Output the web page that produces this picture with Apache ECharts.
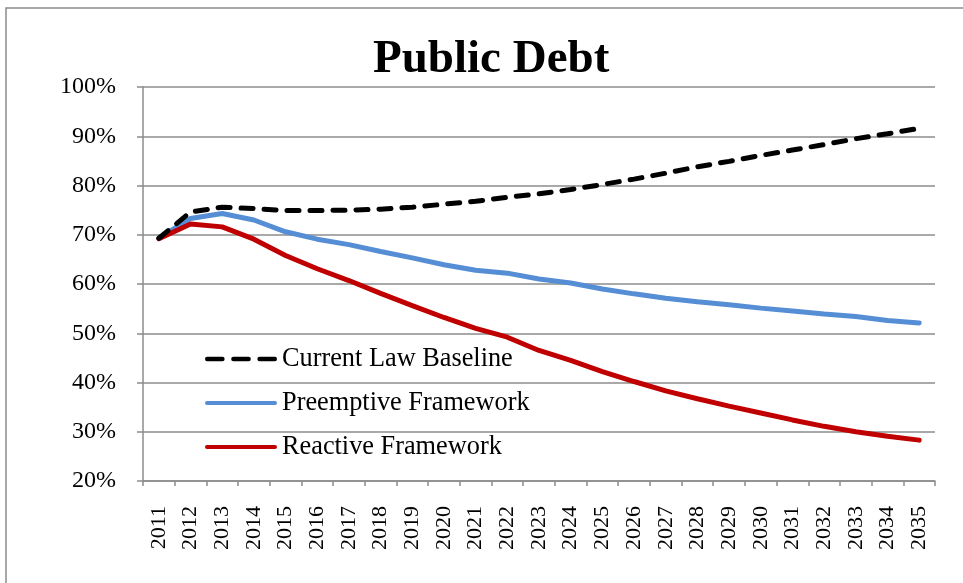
<!DOCTYPE html>
<html>
<head>
<meta charset="utf-8">
<script src="https://cdn.jsdelivr.net/npm/echarts@6/dist/echarts.min.js"></script>
<style>html,body{margin:0;padding:0;background:#fff}#c{width:963px;height:583px}</style>
</head>
<body>
<div id="c"></div>
<script>
const titleText = 'Public Debt';
const years = ['2011','2012','2013','2014','2015','2016','2017','2018','2019','2020','2021','2022','2023','2024','2025','2026','2027','2028','2029','2030','2031','2032','2033','2034','2035'];
const seriesNames = ['Current Law Baseline','Preemptive Framework','Reactive Framework'];
const baseline   = [69.3,74.6,75.6,75.3,74.9,74.9,75.0,75.2,75.6,76.2,76.8,77.6,78.3,79.2,80.2,81.3,82.5,83.8,84.9,86.1,87.2,88.3,89.5,90.5,91.6];
const preemptive = [69.3,73.3,74.3,73.0,70.6,69.1,68.0,66.6,65.3,63.9,62.8,62.2,61.0,60.2,59.0,58.0,57.1,56.4,55.8,55.1,54.5,53.9,53.4,52.6,52.1];
const reactive   = [69.2,72.2,71.6,69.1,65.8,63.1,60.7,58.1,55.6,53.2,51.0,49.2,46.5,44.5,42.2,40.2,38.3,36.7,35.2,33.8,32.4,31.1,30.0,29.1,28.3];
const yMin = 20, yMax = 100, yStep = 10;

const serif = "'Liberation Serif','Times New Roman',serif";
const grey = '#8c8c8c';
const dashIcon = 'path://M2,0h14a2,2 0 0 1 0,4h-14a2,2 0 0 1 0,-4z M26,0h14a2,2 0 0 1 0,4h-14a2,2 0 0 1 0,-4z M50,0h14a2,2 0 0 1 0,4h-14a2,2 0 0 1 0,-4z';
const solidIcon = 'path://M2,0h68a2,2 0 0 1 0,4h-68a2,2 0 0 1 0,-4z';
const chart = echarts.init(document.getElementById('c'), null, {renderer:'canvas'});
chart.setOption({
  animation: false,
  backgroundColor: '#fff',
  graphic: [{type:'rect', shape:{x:6, y:8, width:2000, height:2000}, style:{fill:'none', stroke:grey, lineWidth:1.5}, silent:true, z:-1}],
  title: {text: titleText, left: 368, top: 31, textStyle:{fontFamily: serif, fontWeight:'bold', fontSize:47, color:'#000', lineHeight:47}},
  legend: {
    orient:'vertical', left:200, top:341, itemWidth:72, itemHeight:5, itemGap:18,
    textStyle:{fontFamily: serif, fontSize:26.3, color:'#000', lineHeight:26},
    data: [
      {name: seriesNames[0], icon: dashIcon},
      {name: seriesNames[1], icon: solidIcon},
      {name: seriesNames[2], icon: solidIcon}
    ]
  },
  grid: {left:143, right:28, top:87, bottom:102},
  xAxis: {
    type:'category', data: years, boundaryGap:true,
    axisLine:{lineStyle:{color:grey, width:1.5}},
    axisTick:{show:true, length:5, lineStyle:{color:grey, width:1.5}, alignWithLabel:false},
    axisLabel:{rotate:90, margin:25, fontFamily: serif, fontSize:22, color:'#000', interval:0}
  },
  yAxis: {
    type:'value', min:yMin, max:yMax, interval:yStep,
    axisLine:{show:true, lineStyle:{color:grey, width:1.5}},
    axisTick:{show:true, length:6, lineStyle:{color:grey, width:1.5}},
    splitLine:{show:true, lineStyle:{color:grey, width:1.5}},
    axisLabel:{formatter:'{value}%', margin:27, fontFamily: serif, fontSize:24, color:'#000'}
  },
  series: [
    {name:seriesNames[0], type:'line', data: baseline, symbol:'none', z:3,
     lineStyle:{color:'#000', width:5, type:[12,11], cap:'round'}, itemStyle:{color:'#000'}},
    {name:seriesNames[1], type:'line', data: preemptive, symbol:'none', z:2,
     lineStyle:{color:'#558ed5', width:5, cap:'round'}, itemStyle:{color:'#558ed5'}},
    {name:seriesNames[2], type:'line', data: reactive, symbol:'none', z:2,
     lineStyle:{color:'#c00000', width:5, cap:'round'}, itemStyle:{color:'#c00000'}}
  ]
});
</script>
</body>
</html>
